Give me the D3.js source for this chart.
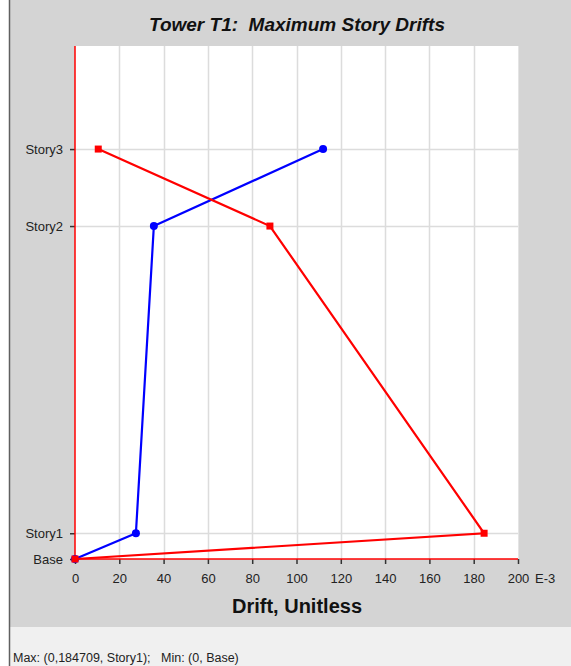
<!DOCTYPE html>
<html><head><meta charset="utf-8">
<script src="https://cdn.jsdelivr.net/npm/d3@7"></script>
<style>
html,body{margin:0;padding:0;background:#fff;}
svg{display:block;font-family:"Liberation Sans",Arial,sans-serif;}
text{white-space:pre;}
</style></head>
<body>
<svg id="chart" width="571" height="666"></svg>
<script>
const stories = ["Base", "Story1", "Story2", "Story3"];
const elevations = [0, 1, 12.93, 15.92];
const blueDrift = [0, 27.5, 35.6, 112];
const redDrift = [0, 184.7, 88, 10.5];
const xTicks = [0, 20, 40, 60, 80, 100, 120, 140, 160, 180, 200];
const titleText = "Tower T1:  Maximum Story Drifts";
const xTitle = "Drift, Unitless";
const statusText = "Max: (0,184709, Story1);   Min: (0, Base)";

const svg = d3.select("#chart");
svg.append("rect").attr("x",10).attr("y",0).attr("width",561).attr("height",627).attr("fill","#d4d4d4");
svg.append("rect").attr("x",10).attr("y",627).attr("width",561).attr("height",39).attr("fill","#f0f0f0");
svg.append("line").attr("x1",9.5).attr("x2",9.5).attr("y1",0).attr("y2",666).attr("stroke","#606060").attr("stroke-width",1.5);

const L=75, R=518, T=46, B=559;
const x = d3.scaleLinear().domain([0,200]).range([L,R]);
const y = d3.scaleLinear().domain([0,20]).range([B,B-515]);

svg.append("rect").attr("x",L).attr("y",T).attr("width",R-L).attr("height",B-T).attr("fill","#fff");
svg.append("line").attr("x1",R+0.5).attr("x2",R+0.5).attr("y1",T).attr("y2",B).attr("stroke","#e4e4e4");

svg.append("g").selectAll("line").data(xTicks.filter(d=>d>0 && d<200)).join("line")
  .attr("x1",d=>Math.round(x(d))+0.5).attr("x2",d=>Math.round(x(d))+0.5)
  .attr("y1",T).attr("y2",B).attr("stroke","#dcdcdc").attr("stroke-width",1.5);
svg.append("g").selectAll("line").data(elevations.slice(1)).join("line")
  .attr("x1",L).attr("x2",R)
  .attr("y1",d=>Math.round(y(d))+0.5).attr("y2",d=>Math.round(y(d))+0.5)
  .attr("stroke","#dcdcdc").attr("stroke-width",1.5);

const fs = 13;
const xAxis = d3.axisBottom(x).tickValues(xTicks).tickSize(5).tickPadding(10).tickFormat(d3.format("d"));
const gx = svg.append("g").attr("transform",`translate(0,${B})`).call(xAxis);
gx.select(".domain").remove();
gx.selectAll(".tick line").attr("stroke","#333").attr("stroke-width",1.5);
gx.selectAll(".tick text").attr("font-size",fs).attr("fill","#222").attr("font-family","Liberation Sans, Arial, sans-serif");
svg.append("text").attr("x",x(200)+17).attr("y",B+15).attr("dy","0.71em").attr("font-size",fs).attr("fill","#222").text("E-3");

const yAxis = d3.axisLeft(y).tickValues(elevations).tickSize(5).tickPadding(7).tickFormat((d,i)=>stories[i]);
const gy = svg.append("g").attr("transform",`translate(${L},0)`).call(yAxis);
gy.select(".domain").remove();
gy.selectAll(".tick line").attr("stroke","#333").attr("stroke-width",1.5);
gy.selectAll(".tick text").attr("font-size",fs).attr("fill","#222").attr("font-family","Liberation Sans, Arial, sans-serif");

svg.append("line").attr("x1",L).attr("x2",L).attr("y1",T).attr("y2",B).attr("stroke","#ff0000").attr("stroke-width",1.5);
svg.append("line").attr("x1",L).attr("x2",R).attr("y1",B).attr("y2",B).attr("stroke","#ff0000").attr("stroke-width",1.5);

const line = d3.line().x(d=>x(d[0])).y(d=>y(d[1]));
const blue = blueDrift.map((v,i)=>[v,elevations[i]]);
const red = redDrift.map((v,i)=>[v,elevations[i]]);
svg.append("path").attr("d",line(blue)).attr("fill","none").attr("stroke","#0000ff").attr("stroke-width",2.2);
svg.append("g").selectAll("circle").data(blue).join("circle")
  .attr("cx",d=>x(d[0])).attr("cy",d=>y(d[1])).attr("r",4).attr("fill","#0000ff");
svg.append("path").attr("d",line(red)).attr("fill","none").attr("stroke","#ff0000").attr("stroke-width",2.2);
svg.append("g").selectAll("rect").data(red).join("rect")
  .attr("x",d=>x(d[0])-3.5).attr("y",d=>y(d[1])-3.5).attr("width",7).attr("height",7).attr("fill","#ff0000");

svg.append("text").attr("x",297).attr("y",31).attr("text-anchor","middle")
  .attr("font-size",19).attr("font-weight","bold").attr("font-style","italic").attr("fill","#111").text(titleText);
svg.append("text").attr("x",297).attr("y",613).attr("text-anchor","middle")
  .attr("font-size",20).attr("font-weight","bold").attr("fill","#111").text(xTitle);
svg.append("text").attr("x",13).attr("y",662).attr("font-size",12.5).attr("fill","#222").text(statusText);
</script>
</body></html>
